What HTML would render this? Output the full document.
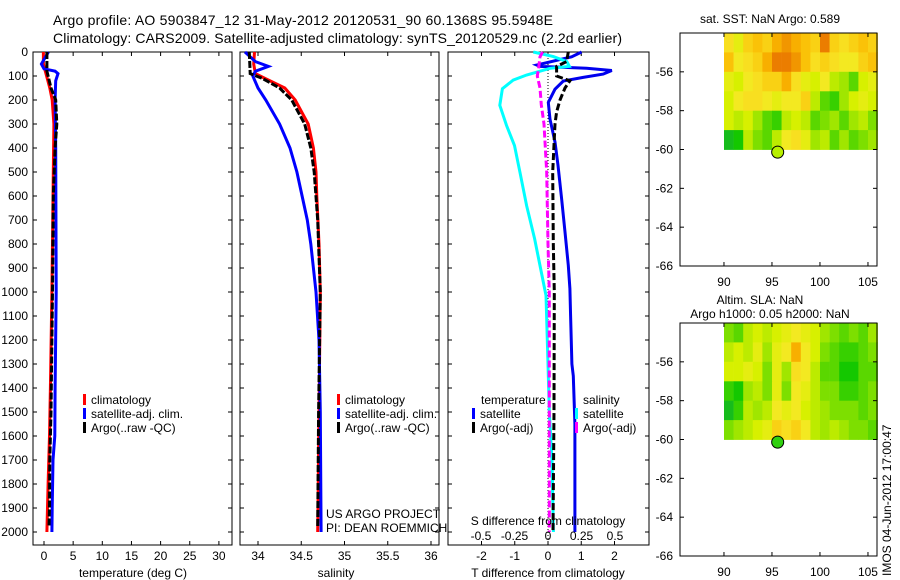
<!DOCTYPE html>
<html><head><meta charset="utf-8"><style>
html,body{margin:0;padding:0;background:#fff;}
svg{display:block;font-family:"Liberation Sans",sans-serif;}
</style></head><body>
<svg id="chart" width="900" height="580" viewBox="0 0 900 580">
<text x="53" y="25" font-size="14" textLength="500">Argo profile: AO 5903847_12 31-May-2012 20120531_90 60.1368S 95.5948E</text>
<text x="53" y="43" font-size="14" textLength="569">Climatology: CARS2009. Satellite-adjusted climatology: synTS_20120529.nc (2.2d earlier)</text>
<g id="g"></g>
</svg>
<script>
// ---- data ----
const depthTicks=[0,100,200,300,400,500,600,700,800,900,1000,1100,1200,1300,1400,1500,1600,1700,1800,1900,2000];
const tTicks=[0,5,10,15,20,25,30];
const sTicks=[34,34.5,35,35.5,36];
const tdTicks=[-2,-1,0,1,2];
const sdTicks=[-0.5,-0.25,0,0.25,0.5];
const sdTickLabels=["-0.5","-0.25","0","0.25","0.5"];

const tClimD=[0,50,100,150,200,300,500,800,1000,1400,1600,1800,2000];
const tClimV=[-0.1,-0.1,0.45,1.0,1.4,1.7,1.6,1.45,1.35,1.1,0.95,0.7,0.5];
const tSatD=[0,50,70,80,90,120,200,400,1000,1400,1600,1700,1900,2000];
const tSatV=[0.75,-0.45,0,1.9,2.4,2.0,1.9,2.0,2.1,1.9,1.85,1.55,1.4,1.35];
const tArgoD=[0,80,100,150,200,300,400,600,1000,1500,1700,1900,1980];
const tArgoV=[0.5,0.5,0.7,1.2,2.0,2.2,1.9,1.6,1.45,1.2,1.0,0.95,0.85];

const sClimD=[0,50,90,110,150,200,300,400,500,600,800,1000,1500,2000];
const sClimV=[33.96,33.95,33.97,34.08,34.31,34.43,34.58,34.64,34.67,34.68,34.705,34.72,34.705,34.69];
const sSatD=[0,40,60,80,100,150,200,300,400,500,600,700,800,1000,1200,1500,2000];
const sSatV=[33.85,33.97,34.12,33.97,33.94,34.0,34.09,34.25,34.37,34.45,34.51,34.57,34.61,34.67,34.705,34.72,34.73];
const sArgoD=[0,90,110,150,200,300,400,500,700,1000,1500,1980];
const sArgoV=[33.9,33.91,34.05,34.25,34.39,34.54,34.61,34.65,34.69,34.72,34.70,34.69];

const dTSatD=[0,20,54,60,68,77,92,106,121,155,210,280,375,472,611,750,889,986,1100,1300,1350,1550,2000];
const dTSatV=[1.01,0.71,-0.34,-0.24,1.16,1.92,1.66,1.06,0.46,0.21,0.01,0.06,0.21,0.3,0.41,0.51,0.61,0.66,0.68,0.72,0.76,0.81,0.81];
const dTArgoD=[0,40,60,100,120,150,200,250,300,500,800,1000,1500,2000];
const dTArgoV=[0.61,0.56,0.26,0.26,0.66,0.51,0.36,0.26,0.21,0.14,0.16,0.19,0.18,0.15];
const dSSatD=[0,19,40,60,68,96,117,153,222,306,390,500,640,778,917,1014,1300,1500,1700,2000];
const dSSatV=[-0.11,0.04,0.14,0.16,0.015,-0.16,-0.26,-0.34,-0.36,-0.31,-0.25,-0.21,-0.16,-0.1,-0.05,-0.015,0,0.01,0.03,0.04];
const dSArgoD=[0,20,68,100,150,220,300,500,800,1000,2000];
const dSArgoV=[-0.04,-0.06,-0.07,-0.08,-0.06,-0.05,-0.03,-0.01,0,0.01,0.01];

const lonTicks=[90,95,100,105];
const latTicks=[-56,-58,-60,-62,-64,-66];
const sstGrid=[
[0.65,0.55,0.7,0.75,0.7,0.8,0.85,0.8,0.75,0.7,0.9,0.7,0.65,0.7,0.75,0.7],
[0.75,0.6,0.65,0.7,0.8,0.9,0.9,0.85,0.75,0.65,0.7,0.65,0.6,0.6,0.7,0.75],
[0.55,0.5,0.6,0.65,0.7,0.7,0.8,0.65,0.55,0.5,0.6,0.45,0.4,0.3,0.5,0.55],
[0.5,0.6,0.65,0.65,0.6,0.55,0.6,0.6,0.7,0.45,0.3,0.25,0.4,0.5,0.55,0.5],
[0.5,0.45,0.5,0.4,0.3,0.25,0.45,0.5,0.45,0.3,0.35,0.4,0.3,0.4,0.45,0.35],
[0.15,0.2,0.45,0.35,0.3,0.45,0.6,0.65,0.55,0.4,0.45,0.3,0.4,0.3,0.35,0.4]];
const slaGrid=[
[0.35,0.3,0.45,0.5,0.45,0.5,0.55,0.6,0.55,0.5,0.4,0.35,0.3,0.35,0.3,0.4],
[0.45,0.5,0.45,0.55,0.4,0.55,0.6,0.8,0.6,0.5,0.35,0.3,0.25,0.25,0.3,0.35],
[0.5,0.5,0.55,0.5,0.35,0.55,0.4,0.65,0.6,0.45,0.3,0.3,0.2,0.2,0.3,0.3],
[0.25,0.2,0.4,0.45,0.35,0.55,0.35,0.6,0.55,0.45,0.35,0.35,0.25,0.25,0.3,0.35],
[0.15,0.25,0.45,0.4,0.45,0.6,0.55,0.6,0.5,0.45,0.4,0.35,0.35,0.35,0.3,0.35],
[0.35,0.4,0.45,0.5,0.55,0.7,0.65,0.7,0.6,0.45,0.4,0.45,0.4,0.35,0.35,0.3]];
const argoLon=95.5948, argoLat=-60.1368;

// ---- helpers ----
const NS="http://www.w3.org/2000/svg";
const G=document.getElementById('g');
function mk(tag,attrs,parent){const e=document.createElementNS(NS,tag);for(const k in attrs)e.setAttribute(k,attrs[k]);(parent||G).appendChild(e);return e;}
function txt(x,y,s,size,anchor){const t=mk('text',{x:x,y:y,'font-size':size||12,'text-anchor':anchor||'start'});t.textContent=s;return t;}
const yD=d=>52+d*0.24;
const xT=v=>44+v*5.83;
const xS=v=>258+(v-34)*86.5;
const xTD=v=>548+v*33.25;
const xSD=v=>548+v*134;

function panel(x0,x1,name){
  const r=mk('rect',{x:x0,y:52,width:x1-x0,height:493,fill:'none',stroke:'#000','stroke-width':1});
  
  
  depthTicks.forEach(d=>{mk('line',{x1:x0,x2:x0+4,y1:yD(d),y2:yD(d),stroke:'#000'});mk('line',{x1:x1,x2:x1-4,y1:yD(d),y2:yD(d),stroke:'#000'});});
}
function xticks(vals,fx,x0,x1,labels,ly){
  vals.forEach((v,i)=>{const x=fx(v);mk('line',{x1:x,x2:x,y1:52,y2:56,stroke:'#000'});mk('line',{x1:x,x2:x,y1:545,y2:541,stroke:'#000'});
    const t=txt(x,ly,labels?labels[i]:String(v),12,'middle');
    
    });
}
function series(D,V,fx,color,dash,name){
  const p=D.map((d,i)=>(i?'L':'M')+fx(V[i]).toFixed(1)+','+yD(d).toFixed(1)).join(' ');
  const e=mk('path',{d:p,fill:'none',stroke:color,'stroke-width':3,'stroke-dasharray':dash||'none'});
  
  
}
function legend(x,y,color,label,name){
  mk('rect',{x:x,y:y-10,width:3,height:11,fill:color});
  const t=txt(x+8,y,label,12);
  
  
}

// ---- panel 1: temperature ----
panel(33,232,'temperature-panel');
depthTicks.forEach(d=>{const t=txt(28,yD(d)+4,String(d),12,'end');
  
  });
xticks(tTicks,xT,33,232,null,560);
series(tClimD,tClimV,xT,'#ff0000',null,'temp-climatology-line');
series(tSatD,tSatV,xT,'#0000ff',null,'temp-satellite-line');
series(tArgoD,tArgoV,xT,'#000',"7,2",'temp-argo-line');
legend(83,404,'#ff0000','climatology','legend-climatology');
legend(83,418,'#0000ff','satellite-adj. clim.','legend-satellite');
legend(83,432,'#000','Argo(..raw -QC)','legend-argo');
let t=txt(133,577,'temperature (deg C)',12,'middle');

// ---- panel 2: salinity ----
panel(240,439,'salinity-panel');
xticks(sTicks,xS,240,439,null,560);
series(sClimD,sClimV,xS,'#ff0000',null,'sal-climatology-line');
series(sSatD,sSatV,xS,'#0000ff',null,'sal-satellite-line');
series(sArgoD,sArgoV,xS,'#000',"7,2",'sal-argo-line');
legend(337,404,'#ff0000','climatology','legend2-climatology');
legend(337,418,'#0000ff','satellite-adj. clim.','legend2-satellite');
legend(337,432,'#000','Argo(..raw -QC)','legend2-argo');
t=txt(326,518,'US ARGO PROJECT',12);
t=txt(326,532,'PI: DEAN ROEMMICH',12);
t=txt(336,577,'salinity',12,'middle');

// ---- panel 3: differences ----
panel(448,649,'difference-panel');
mk('line',{x1:xTD(0),x2:xTD(0),y1:52,y2:545,stroke:'#000','stroke-dasharray':'1,2'});
xticks(tdTicks,xTD,448,649,null,560);
series(dTSatD,dTSatV,xTD,'#0000ee',null,'tdiff-satellite-line');
series(dSSatD,dSSatV,xSD,'#00ffff',null,'sdiff-satellite-line');
series(dSArgoD,dSArgoV,xSD,'#ff00ff',"7,3",'sdiff-argo-line');
series(dTArgoD,dTArgoV,xTD,'#000',"7,3",'tdiff-argo-line');
sdTicks.forEach((v,i)=>{const tt=txt(xSD(v),540,sdTickLabels[i],12,'middle');
  
  });
t=txt(548,525,'S difference from climatology',12,'middle');
t=txt(481,404,'temperature',12);
legend(472,418,'#0000ff','satellite','legend3-t-satellite');
legend(472,432,'#000','Argo(-adj)','legend3-t-argo');
t=txt(583,404,'salinity',12);
legend(575,418,'#00ffff','satellite','legend3-s-satellite');
legend(575,432,'#ff00ff','Argo(-adj)','legend3-s-argo');
t=txt(548,577,'T difference from climatology',12,'middle');

// ---- maps ----
const stops=[[0,[26,150,110]],[0.2,[20,200,0]],[0.4,[160,230,0]],[0.5,[215,240,0]],[0.62,[248,232,40]],[0.78,[250,185,0]],[0.9,[235,125,0]],[1,[190,30,0]]];
function cmap(v){for(let i=1;i<stops.length;i++){if(v<=stops[i][0]){const a=stops[i-1],b=stops[i],f=(v-a[0])/(b[0]-a[0]);return 'rgb('+a[1].map((c,j)=>Math.round(c+(b[1][j]-c)*f)).join(',')+')';}}return 'rgb(190,30,0)';}
function map(top,bottom,grid,name,dotColor,labelY){
  const fx=lon=>680+(lon-85.42)*9.6;
  const py=(bottom-top)/12;
  const fy=lat=>top+(-54-lat)*py;
  const mg=mk('g',{});
  
  
  grid.forEach((row,r)=>row.forEach((v,c)=>{
    const cell=mk('rect',{x:fx(90+c).toFixed(1),y:fy(-54-r).toFixed(1),width:9.9,height:(py+0.4).toFixed(1),fill:cmap(v)},mg);
    
    
  }));
  mk('rect',{x:680,y:top,width:197,height:bottom-top,fill:'none',stroke:'#000'});
  latTicks.forEach(l=>{const y=fy(l);mk('line',{x1:680,x2:684,y1:y,y2:y,stroke:'#000'});mk('line',{x1:877,x2:873,y1:y,y2:y,stroke:'#000'});
    const tt=txt(673,y+4,String(l),12,'end');});
  lonTicks.forEach(l=>{const x=fx(l);mk('line',{x1:x,x2:x,y1:bottom,y2:bottom-4,stroke:'#000'});mk('line',{x1:x,x2:x,y1:top,y2:top+4,stroke:'#000'});
    const tt=txt(x,labelY,String(l),12,'middle');});
  const dot=mk('circle',{cx:fx(argoLon),cy:fy(argoLat),r:6,fill:dotColor,stroke:'#000'});
  
  
}
map(33,266,sstGrid,'sst-map','#b8f000',286);
t=txt(770,23,'sat. SST: NaN Argo: 0.589',12,'middle');
map(323,556,slaGrid,'sla-map','#30d010',576);
t=txt(760,304,'Altim. SLA: NaN',12,'middle');
t=txt(770,318,'Argo h1000: 0.05 h2000: NaN',12,'middle');
t=txt(0,0,'IMOS 04-Jun-2012 17:00:47',12,'start');
t.setAttribute('transform','translate(891,576) rotate(-90)');


</script>
</body></html>
